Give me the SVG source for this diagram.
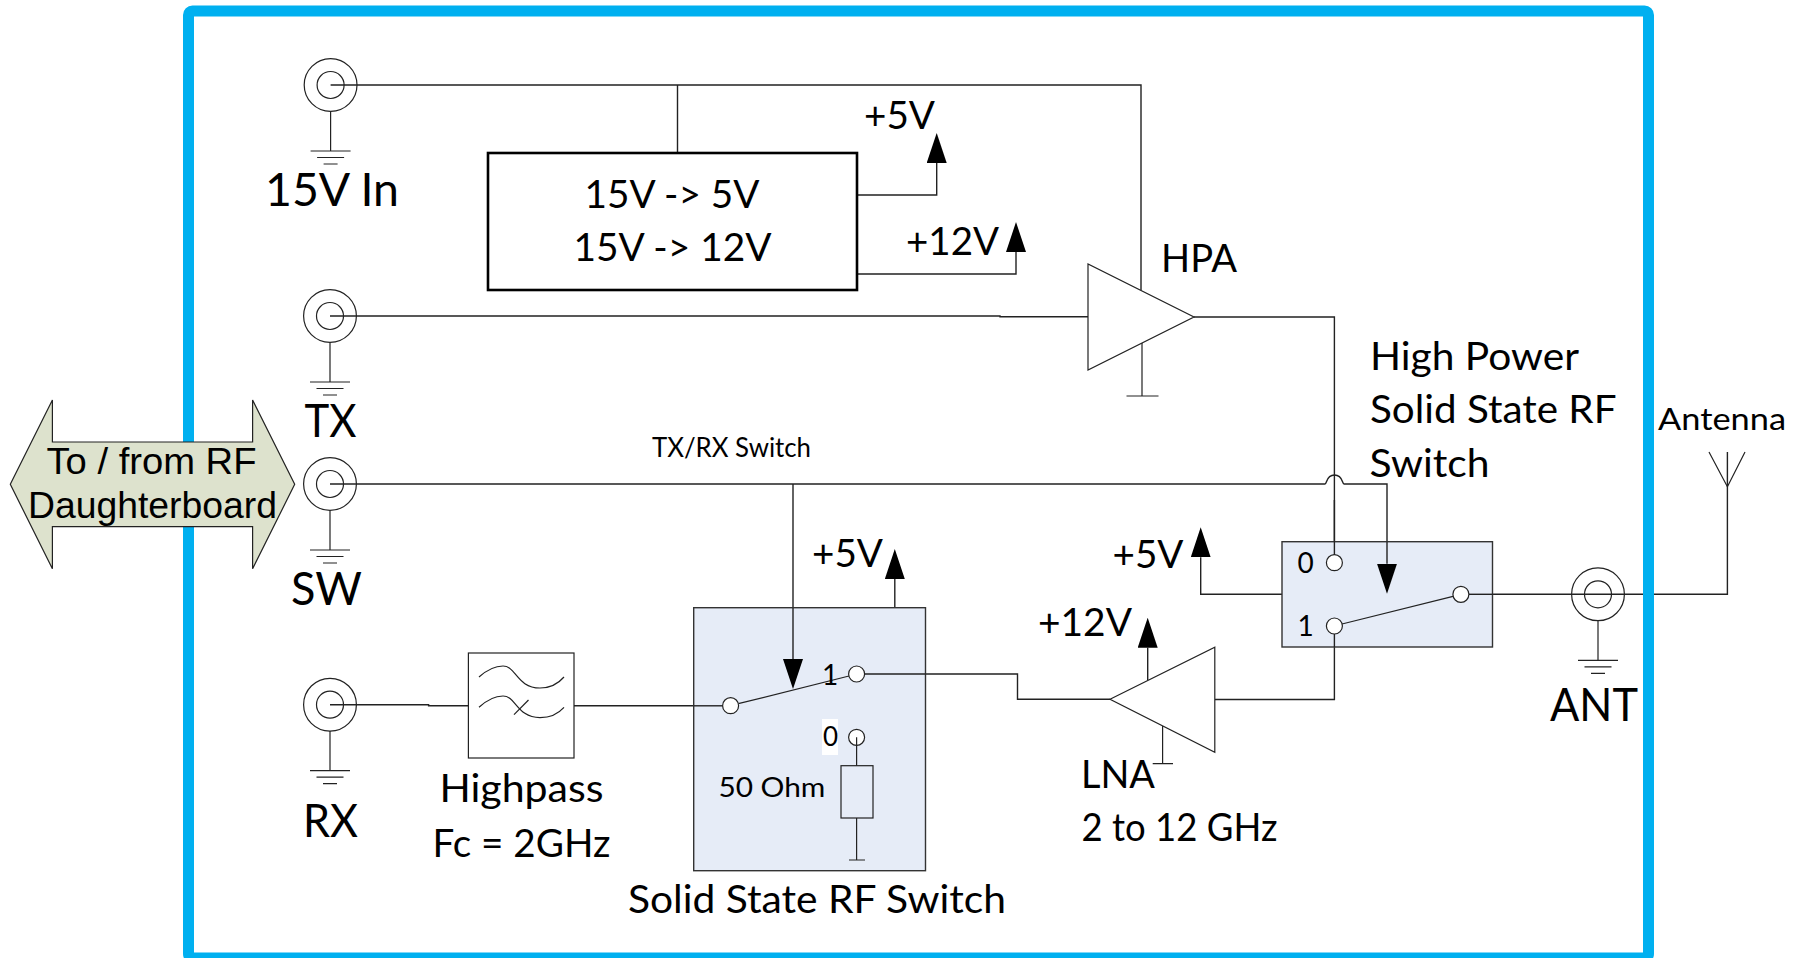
<svg xmlns="http://www.w3.org/2000/svg" xmlns:xlink="http://www.w3.org/1999/xlink" width="1797" height="958" viewBox="0 0 1797 958">
<style>
  .w { fill: none; stroke: #222; stroke-width: 1.4; }
  .o { fill: none; stroke: #222; stroke-width: 1.2; }
  .p { fill: #fff; stroke: #222; stroke-width: 1.2; }
  .t { font-family: "Lato", "Carlito", "Liberation Sans", sans-serif; fill: #000; }
  .xl { font-size: 46px; }
  .l { font-size: 38px; }
  .s { font-size: 28px; }
  .blue { fill: #E6ECF7; stroke: #333; stroke-width: 1.4; }
</style>
<defs>
  <marker id="head" markerUnits="userSpaceOnUse" markerWidth="30" markerHeight="20" viewBox="0 0 30 20" refX="0" refY="10" orient="auto">
    <path d="M0,0 L30,10 L0,20 Z" fill="#000"/>
  </marker>
  <g id="coax">
    <circle class="o" r="26.4" fill="none"/>
    <circle class="o" r="13.5"/>
    <path class="o" d="M0,26.4 V66 M-20,66 H20 M-13.5,72.5 H13.5 M-7,79 H7"/>
  </g>
</defs>

<rect id="enclosure-fill" x="188.5" y="11" width="1460" height="947" fill="#fff"/>

<g id="connectors">
  <path class="w" d="M330.6,85 H1141 V290"/>
  <path class="w" d="M677.5,85 V153"/>
  <path class="w" d="M857,195 H936.7 V163" marker-end="url(#head)"/>
  <path class="w" d="M857,274 H1016 V252" marker-end="url(#head)"/>
  <path class="w" d="M330,316 H1000 L1000,316.7 H1088"/>
  <path class="w" d="M1194,317 H1334.4 V555"/>
  <path class="w" d="M330,484 H1325 C1327,484 1326,475 1334.5,475 C1343,475 1342,484 1344,484 H1387 V563.7" marker-end="url(#head)"/>
  <path class="w" d="M793,484 V659" marker-end="url(#head)"/>
  <path class="w" d="M330,704.7 H428.6 V705.8 H468.4"/>
  <path class="w" d="M574,705.8 H722.6"/>
  <path class="w" d="M864.6,674 H1017.5 V699.3 H1110"/>
  <path class="w" d="M894.8,607.7 V579" marker-end="url(#head)"/>
  <path class="w" d="M1147.7,680 V647.7" marker-end="url(#head)"/>
  <path class="w" d="M1214.8,699.5 H1334.4 V634"/>
  <path class="w" d="M1282,594.3 H1200.7 V557.3" marker-end="url(#head)"/>
  <path class="w" d="M1469,594.3 H1598"/>
  <path class="w" d="M1598,594.3 H1727.4 V452"/>
</g>

<rect id="enclosure" x="188.5" y="11" width="1460" height="947" rx="4" fill="none" stroke="#00B0F0" stroke-width="11"/>

<g id="rf-daughterboard">
  <polygon points="10.3,484.3 52.4,400 52.4,442 252.6,442 252.6,400 294.7,484.3 252.6,568.7 252.6,526.7 52.4,526.7 52.4,568.7" fill="#DDE2CD" stroke="#222" stroke-width="1.2"/>
  <text x="46.5" y="474" font-family="Liberation Sans, Arial, sans-serif" font-size="37" textLength="210" lengthAdjust="spacingAndGlyphs">To / from RF</text>
  <text x="28" y="518" font-family="Liberation Sans, Arial, sans-serif" font-size="37" textLength="249" lengthAdjust="spacingAndGlyphs">Daughterboard</text>
</g>

<g id="conn-15v"><use xlink:href="#coax" href="#coax" x="330.6" y="85"/>
  <text class="t xl" x="265" y="206" textLength="134" lengthAdjust="spacingAndGlyphs">15V In</text></g>
<g id="conn-tx"><use xlink:href="#coax" href="#coax" x="330" y="316"/>
  <text class="t xl" x="304.5" y="437" textLength="52" lengthAdjust="spacingAndGlyphs">TX</text></g>
<g id="conn-sw"><use xlink:href="#coax" href="#coax" x="330" y="484"/>
  <text class="t xl" x="291" y="605" textLength="71" lengthAdjust="spacingAndGlyphs">SW</text></g>
<g id="conn-rx"><use xlink:href="#coax" href="#coax" x="330" y="704.7"/>
  <text class="t xl" x="303" y="837" textLength="55" lengthAdjust="spacingAndGlyphs">RX</text></g>
<g id="conn-ant"><use xlink:href="#coax" href="#coax" x="1598" y="594.3"/>
  <text class="t xl" x="1550" y="721" textLength="88" lengthAdjust="spacingAndGlyphs">ANT</text></g>

<g id="regulator">
  <rect x="488" y="153" width="369" height="137" fill="#fff" stroke="#000" stroke-width="2.6"/>
  <text class="t l" x="584.5" y="208" textLength="175" lengthAdjust="spacingAndGlyphs">15V -&gt; 5V</text>
  <text class="t l" x="573.5" y="261" textLength="198" lengthAdjust="spacingAndGlyphs">15V -&gt; 12V</text>
</g>
<text class="t l" x="864" y="129" textLength="71" lengthAdjust="spacingAndGlyphs">+5V</text>
<text class="t l" x="906" y="255" textLength="93" lengthAdjust="spacingAndGlyphs">+12V</text>

<g id="hpa">
  <polygon class="p" points="1088,264 1088,370 1194,317"/>
  <path class="o" d="M1142,343 V396 M1126.5,396 H1158.5"/>
  <text class="t l" x="1161" y="272" textLength="76" lengthAdjust="spacingAndGlyphs">HPA</text>
</g>

<text class="t" font-size="26" x="652" y="457" textLength="159" lengthAdjust="spacingAndGlyphs">TX/RX Switch</text>

<g id="highpass">
  <rect class="p" x="468.4" y="653" width="105.6" height="105"/>
  <path class="o" d="M479,677 C488,669 496,666 503,666 C516,666 517,688 540,688 C550,688 558,684 564,677"/>
  <path class="o" d="M479,707.3 C488,699 496,696 503,696 C516,696 517,717.6 540,717.6 C550,717.6 558,714 564,707.3"/>
  <path class="o" d="M514,714.7 L528.5,700"/>
  <text class="t l" x="439.5" y="802" textLength="164" lengthAdjust="spacingAndGlyphs">Highpass</text>
  <text class="t l" x="432.5" y="857" textLength="178" lengthAdjust="spacingAndGlyphs">Fc = 2GHz</text>
</g>

<g id="rf-switch">
  <rect class="blue" x="693.7" y="607.7" width="231.8" height="263"/>
  <path class="w" d="M693.7,705.8 H722.6"/>
  <path class="w" d="M864.6,674 H925.5"/>
  <path class="o" d="M738.3,703.7 L849,676"/>
  <path class="w" d="M793,607.7 V659" marker-end="url(#head)"/>
  <rect x="822" y="719" width="16" height="36" fill="#fff"/>
  <text class="t s" x="822" y="685">1</text>
  <text class="t" font-size="26" x="823" y="746">0</text>
  <ellipse class="p" cx="730.6" cy="705.7" rx="8" ry="8"/>
  <ellipse class="p" cx="856.6" cy="674" rx="8" ry="8"/>
  <ellipse class="p" cx="856.6" cy="737.3" rx="8" ry="8"/>
  <path class="o" d="M856.6,737.3 V765.7 M856.6,818 V860 M849,860 H865"/>
  <rect class="o" x="841" y="765.7" width="32" height="52.3"/>
  <text class="t" font-size="27" x="718.4" y="797" textLength="107" lengthAdjust="spacingAndGlyphs">50 Ohm</text>
  <text class="t l" x="628" y="913" textLength="378" lengthAdjust="spacingAndGlyphs">Solid State RF Switch</text>
</g>
<text class="t l" x="812" y="567" textLength="71" lengthAdjust="spacingAndGlyphs">+5V</text>

<g id="lna">
  <polygon class="p" points="1110,699.3 1214.8,647.3 1214.8,752.3"/>
  <path class="o" d="M1162.6,726 V763.7 M1152.7,763.7 H1173"/>
  <text class="t l" x="1081" y="788" textLength="74" lengthAdjust="spacingAndGlyphs">LNA</text>
  <text class="t l" x="1081.5" y="841" textLength="196" lengthAdjust="spacingAndGlyphs">2 to 12 GHz</text>
</g>
<text class="t l" x="1038" y="636" textLength="94" lengthAdjust="spacingAndGlyphs">+12V</text>
<text class="t l" x="1112.5" y="568" textLength="71" lengthAdjust="spacingAndGlyphs">+5V</text>

<g id="hp-switch">
  <rect class="blue" x="1282" y="541.7" width="210.5" height="105.3"/>
  <path class="w" d="M1334.4,500 V555"/>
  <path class="w" d="M1334.4,634 V647"/>
  <path class="w" d="M1387,541.7 V563.7" marker-end="url(#head)"/>
  <path class="w" d="M1469,594.3 H1492.5"/>
  <path class="o" d="M1342,624 L1453,596.3"/>
  <ellipse class="p" cx="1334.4" cy="562.7" rx="8" ry="8"/>
  <ellipse class="p" cx="1334.4" cy="626" rx="8" ry="8"/>
  <ellipse class="p" cx="1460.9" cy="594.3" rx="8" ry="8"/>
  <text class="t s" x="1297.5" y="572.5">0</text>
  <text class="t s" x="1297.5" y="635.5">1</text>
  <text class="t l" x="1370" y="370" textLength="209" lengthAdjust="spacingAndGlyphs">High Power</text>
  <text class="t l" x="1370" y="423" textLength="246.5" lengthAdjust="spacingAndGlyphs">Solid State RF</text>
  <text class="t l" x="1369.5" y="477" textLength="120" lengthAdjust="spacingAndGlyphs">Switch</text>
</g>

<g id="antenna">
  <path class="o" d="M1709,452 L1727.4,486.7 L1745,452"/>
  <text class="t" font-size="31" x="1658" y="430" textLength="128" lengthAdjust="spacingAndGlyphs">Antenna</text>
</g>
</svg>
